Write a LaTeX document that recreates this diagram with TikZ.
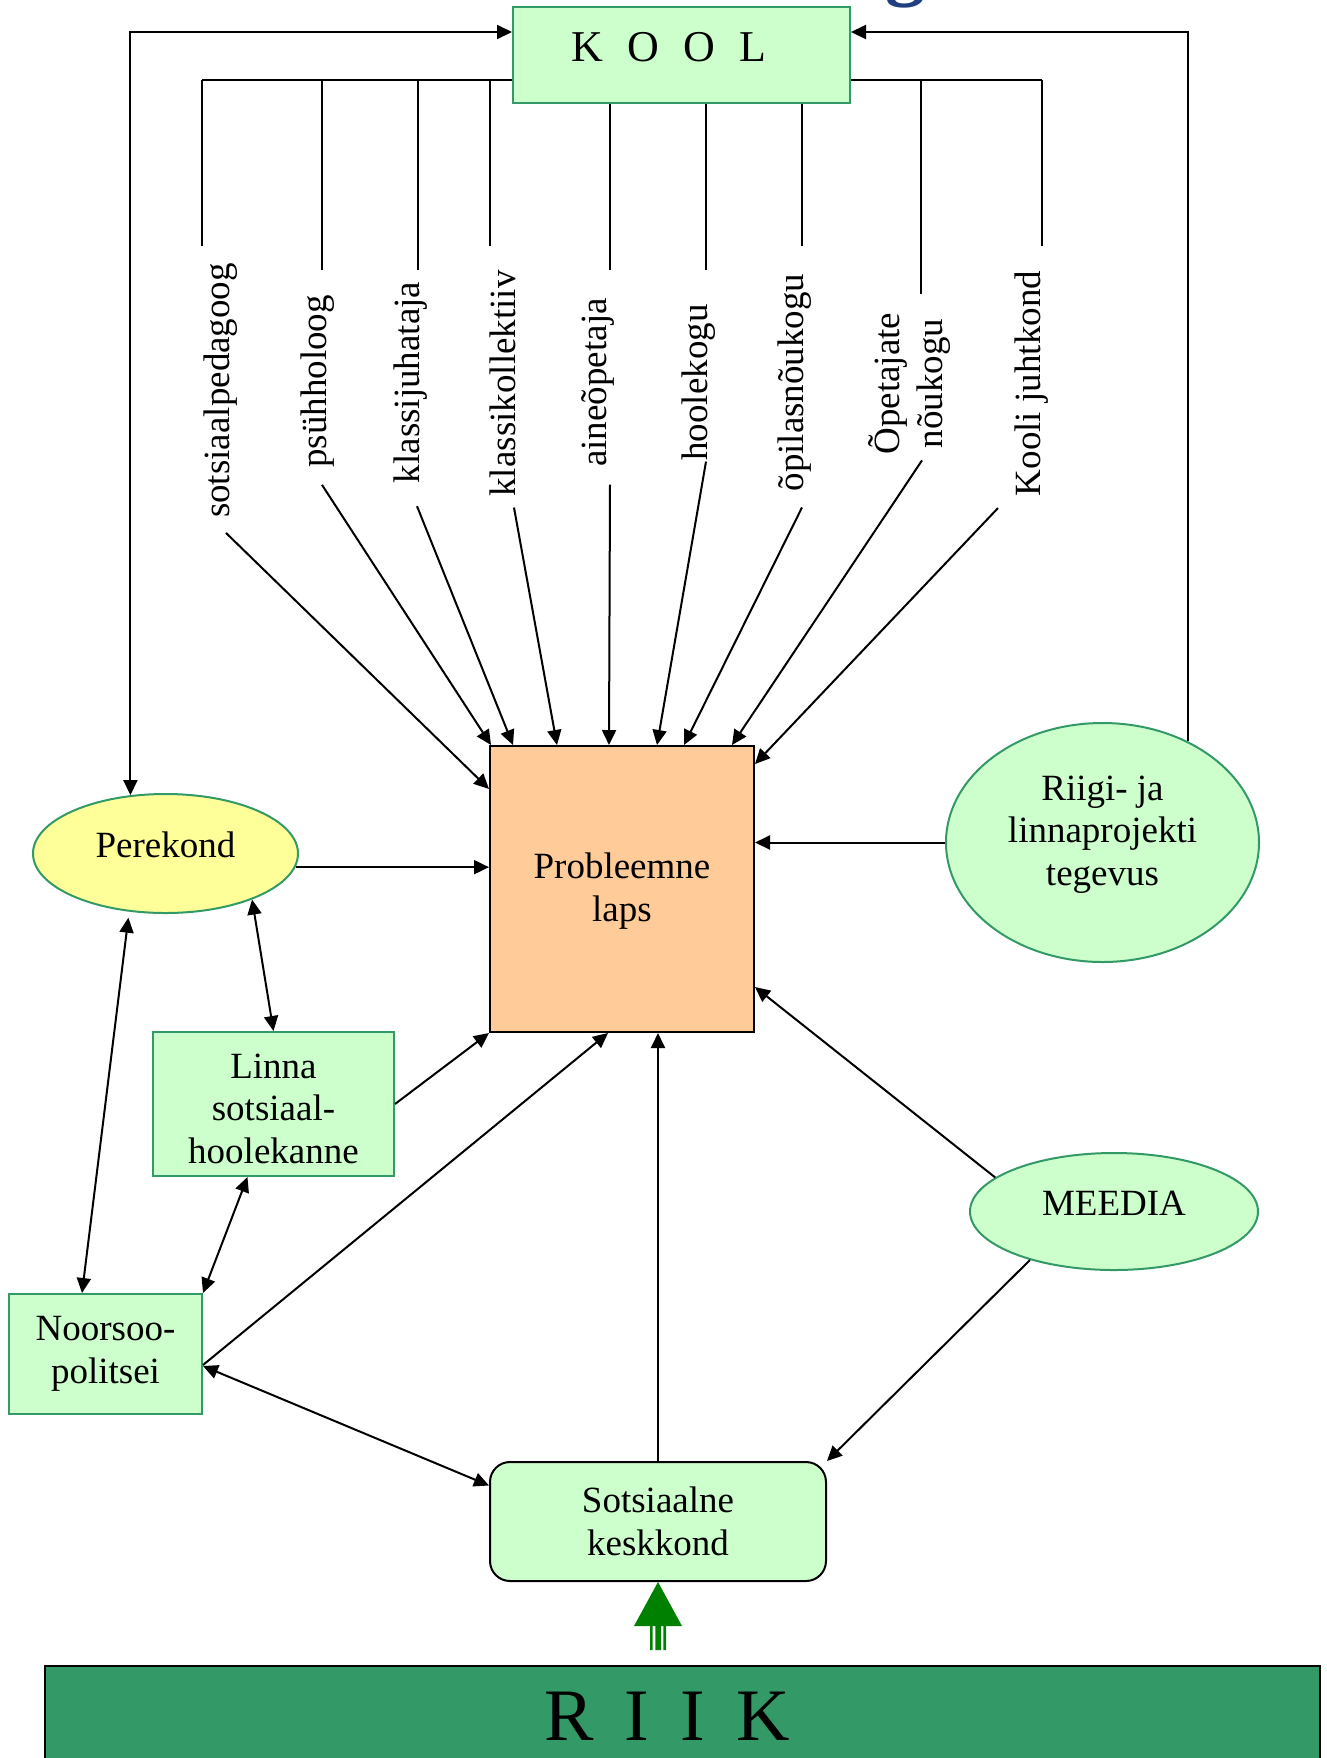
\documentclass[tikz,border=0pt]{standalone}
\usepackage{fontspec}
\setmainfont{Liberation Serif}
\usepackage{tikz}
\usetikzlibrary{
	arrows.meta,
	calc,
	positioning,
	shapes.geometric
}
\definecolor{boxgreen}{HTML}{CCFFCC}
\definecolor{edgegreen}{HTML}{339966}
\definecolor{familyyellow}{HTML}{FFFF99}
\definecolor{childorange}{HTML}{FFCC99}
\definecolor{stategreen}{HTML}{339966}
\definecolor{arrowgreen}{HTML}{008000}
\definecolor{titleblue}{HTML}{1F3F7F}
\tikzstyle{every picture}+=[>={Triangle[length=7.5pt,width=7pt]}]

\begin{document}
\begin{tikzpicture}
	[x=0.5pt, y=-0.5pt, line width=1pt,
	 every node/.style={font=\fontsize{18.5}{21.25}\selectfont, inner sep=0pt, align=center},
	 greenbox/.style={rectangle, draw=edgegreen, fill=boxgreen},
	 greenoval/.style={ellipse, draw=edgegreen, fill=boxgreen},
	 member/.style={rotate=90}]

	\useasboundingbox (0,0) rectangle (1327,1758);
	\clip (0,0) rectangle (1327,1758);

	% what is left of the title
	\node[anchor=base, font=\fontsize{40}{48}\selectfont\bfseries, text=titleblue] (titleg) at (905,-10) {g};

	% school with its members
	\begin{scope}
		% bus under the box
		\draw (202,80) -- (1042,80);
		\foreach \x/\y in {202/246, 322/270, 418/270, 490/246, 610/270, 706/270, 802/246, 921/294, 1042/246} {
			\draw (\x,80) -- (\x,\y);
		}

		\node[greenbox, minimum width=168.5pt, minimum height=48pt, font=\fontsize{22}{26}\selectfont] (kool) at (681.5,55)
			{\raisebox{8pt}{K\hspace{.55em}O\hspace{.55em}O\hspace{.55em}L}\hspace*{13pt}};

		% members, read upwards
		\foreach \name/\x/\y/\txt in {sotspeda/221/390.5/sotsiaalpedagoog, psyh/318/381.5/psühholoog,
				klassij/410.5/382.5/klassijuhataja, klassik/502.5/383.5/klassikollektiiv,
				aine/598/382.5/aineõpetaja, hoole/698.5/382.5/hoolekogu,
				opil/795/382.5/õpilasnõukogu, opet/909.5/383.5/{Õpetajate\\nõukogu},
				juht/1031.5/383.5/Kooli juhtkond} {
			\node[member] (\name) at (\x,\y) {\txt};
		}
	\end{scope}

	% the child
	\node[draw, fill=childorange, minimum width=132pt, minimum height=143pt] (prob) at (622,889)
		{\rule{0pt}{15pt}Probleemne\\laps};

	% around the child
	\node[ellipse, draw=edgegreen, fill=familyyellow, minimum width=132.5pt, minimum height=59.5pt] (perekond) at (165.5,853.5)
		{\raisebox{8.5pt}{Perekond}};
	\node[greenbox, minimum width=120.5pt, minimum height=72pt] (linna) at (273.5,1104)
		{\rule{0pt}{17pt}Linna\\sotsiaal-\\hoolekanne};
	\node[greenbox, minimum width=96.5pt, minimum height=60pt] (noorsoo) at (105.5,1354) {Noorsoo-\\politsei};
	\node[draw, fill=boxgreen, rounded corners=10pt, minimum width=168pt, minimum height=59.5pt] (sots) at (658,1521.5)
		{Sotsiaalne\\keskkond};
	\node[greenoval, minimum width=144pt, minimum height=58.5pt] (meedia) at (1114,1211.5) {\raisebox{8.3pt}{MEEDIA}};
	\node[greenoval, minimum width=156.5pt, minimum height=119.5pt] (riigi) at (1102.5,842.5)
		{Riigi- ja\\linnaprojekti\\tegevus\rule[-12pt]{0pt}{12pt}};

	% state
	\node[draw, fill=stategreen, minimum width=637.5pt, minimum height=67pt, font=\fontsize{37}{44}\selectfont] (riik) at (682.5,1733)
		{\raisebox{16.8pt}{R\hspace{.42em}I\hspace{.42em}I\hspace{.42em}K}\hspace*{15.5pt}};

	% green arrow from the state
	\begin{scope}[arrowgreen]
		\fill (658,1582) -- (682,1626) -- (634,1626) -- cycle;
		\fill (650,1626) rectangle (652.7,1650)
			(655.3,1626) rectangle (661,1650)
			(663.3,1626) rectangle (666,1650);
	\end{scope}

	% members to the child
	\begin{scope}[->]
		\draw ($(sotspeda.west)+(5,14)$) -- ($(prob.north west)+(0,44)$);
		\draw ($(psyh.west)+(4,16)$) -- ($(prob.north west)+(2,0)$);
		\draw ($(klassij.west)+(6.5,22)$) -- ($(prob.north west)+(24,0)$);
		\draw ($(klassik.west)+(11.5,10)$) -- ($(prob.north west)+(68,0)$);
		\draw ($(aine.west)+(12,17)$) -- ($(prob.north west)+(120,0)$);
		\draw ($(hoole.west)+(7.5,0)$) -- ($(prob.north west)+(168,0)$);
		\draw ($(opil.west)+(7,15)$) -- ($(prob.north west)+(195,0)$);
		\draw ($(opet.west)+(12.5,5)$) -- ($(prob.north west)+(243,0)$);
		\draw ($(juht.west)+(-33.5,11)$) -- ($(prob.north east)+(0,19)$);
	\end{scope}

	% one way
	\begin{scope}[->]
		\draw (riigi.50) |- ($(kool.east)+(0,-23)$);
		\draw (riigi.west) -- (riigi.west -| prob.east);
		\draw (perekond.-6) -- (perekond.-6 -| prob.west);
		\draw (linna.east) -- (prob.south west);
		\draw ($(noorsoo.east)+(0,11)$) -- ($(prob.south)+(-14,0)$);
		\draw (sots.north) -- (sots.north |- prob.south);
		\draw (meedia.164) -- ($(prob.east)+(0,98)$);
		\draw (meedia.210) -- (sots.north east);
	\end{scope}

	% both ways
	\begin{scope}[<->]
		\draw (perekond.121) |- ($(kool.west)+(0,-23)$);
		\draw (perekond.-28) -- (linna.north);
		\draw[shorten <=3pt] (perekond.-122) -- ($(noorsoo.north)+(-23.5,0)$);
		\draw ($(linna.south)+(-26,0)$) -- (noorsoo.north east);
		\draw ($(noorsoo.east)+(0,12)$) -- ($(sots.west)+(0,-36)$);
	\end{scope}

\end{tikzpicture}
\end{document}
